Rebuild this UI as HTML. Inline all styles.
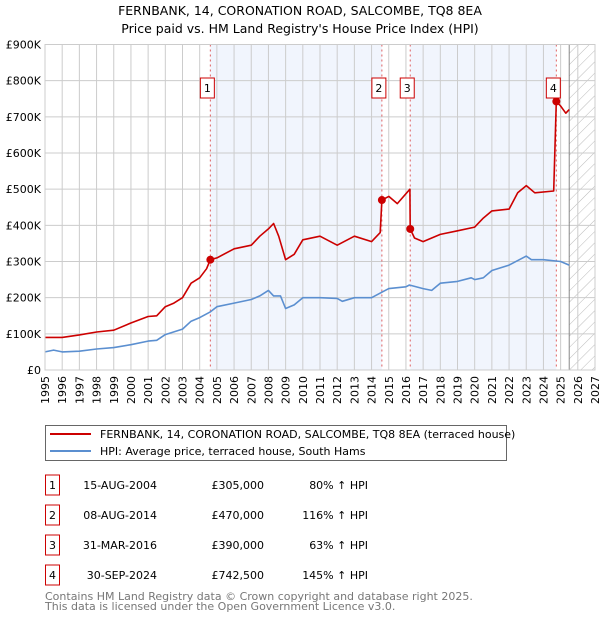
<!DOCTYPE html>
<html><head><meta charset="utf-8"><style>
body{margin:0;background:#fff;font-family:"DejaVu Sans","Liberation Sans",sans-serif;}
svg{display:block}
</style></head><body>
<svg id="c" width="600" height="620" xmlns="http://www.w3.org/2000/svg" font-family="DejaVu Sans, Liberation Sans, sans-serif">
<defs><pattern id="hatch" width="8" height="8" patternUnits="userSpaceOnUse" patternTransform="rotate(45)"><line x1="0" y1="0" x2="0" y2="8" stroke="#bbb" stroke-width="1"/></pattern></defs>
<text x="300" y="15" text-anchor="middle" font-size="12.5">FERNBANK, 14, CORONATION ROAD, SALCOMBE, TQ8 8EA</text>
<text x="300" y="33" text-anchor="middle" font-size="12.5">Price paid vs. HM Land Registry's House Price Index (HPI)</text>
<g id="plot"></g>
<g>
<rect x="45.5" y="425.5" width="461" height="35" fill="#fff" stroke="#666"/>
<line x1="50" y1="434" x2="91" y2="434" stroke="#cc0000" stroke-width="2"/>
<text x="100" y="438" font-size="11">FERNBANK, 14, CORONATION ROAD, SALCOMBE, TQ8 8EA (terraced house)</text>
<line x1="50" y1="451" x2="91" y2="451" stroke="#5b8fd0" stroke-width="2"/>
<text x="100" y="455" font-size="11">HPI: Average price, terraced house, South Hams</text>
</g>
<g id="table" font-size="11"></g>
<text x="45" y="600" font-size="11" fill="#777">Contains HM Land Registry data © Crown copyright and database right 2025.</text>
<text x="45" y="610" font-size="11" fill="#777">This data is licensed under the Open Government Licence v3.0.</text>
</svg>
<script>
const hpiYears=[1995,1995.5,1996,1997,1998,1999,2000,2001,2001.5,2002,2003,2003.5,2004,2004.6,2005,2006,2007,2007.5,2008,2008.3,2008.7,2009,2009.5,2010,2011,2012,2012.3,2013,2014,2014.6,2015,2016,2016.2,2017,2017.5,2018,2019,2019.8,2020,2020.5,2021,2022,2023,2023.3,2024,2025,2025.5];
const hpiValues=[50,55,50,52,58,62,70,80,82,98,113,135,145,160,175,185,195,205,220,205,205,170,180,200,200,198,190,200,200,215,225,230,235,225,220,240,245,255,250,255,275,290,315,305,305,300,290];
const propYears=[1995,1996,1997,1998,1999,2000,2001,2001.5,2002,2002.5,2003,2003.5,2004,2004.4,2004.62,2005,2006,2007,2007.5,2008,2008.3,2008.6,2009,2009.5,2010,2011,2012,2013,2014,2014.5,2014.6,2015,2015.5,2016.23,2016.25,2016.5,2017,2018,2019,2020,2020.5,2021,2022,2022.5,2023,2023.5,2024.6,2024.75,2025,2025.3,2025.5];
const propValues=[90,90,97,105,110,130,148,150,175,185,200,240,255,280,305,310,335,345,370,390,405,370,305,320,360,370,345,370,355,380,470,480,460,500,390,365,355,375,385,395,420,440,445,490,510,490,495,742.5,730,710,720];
const saleLabels=["1","2","3","4"];
const saleYears=[2004.62,2014.6,2016.25,2024.75];
const saleValues=[305,470,390,742.5];
const saleDates=["15-AUG-2004","08-AUG-2014","31-MAR-2016","30-SEP-2024"];
const salePrices=["£305,000","£470,000","£390,000","£742,500"];
const saleHpi=["80% ↑ HPI","116% ↑ HPI","63% ↑ HPI","145% ↑ HPI"];
const yTicks=[0,100,200,300,400,500,600,700,800,900];
const yTickLabels=["£0","£100K","£200K","£300K","£400K","£500K","£600K","£700K","£800K","£900K"];
const xTicks=[1995,1996,1997,1998,1999,2000,2001,2002,2003,2004,2005,2006,2007,2008,2009,2010,2011,2012,2013,2014,2015,2016,2017,2018,2019,2020,2021,2022,2023,2024,2025,2026,2027];

const X0=45,X1=595,Y0=370,Y1=44.5;
const xs=y=>X0+(y-1995)/(2027-1995)*(X1-X0);
const ys=v=>Y0-v/900*(Y0-Y1);
const NS="http://www.w3.org/2000/svg";
const plot=document.getElementById('plot');
function mk(tag,attrs,parent){const e=document.createElementNS(NS,tag);for(const k in attrs)e.setAttribute(k,attrs[k]);(parent||plot).appendChild(e);return e;}

let r;
r=mk('rect',{x:xs(saleYears[0]),y:Y1,width:xs(saleYears[1])-xs(saleYears[0]),height:Y0-Y1,fill:'#eef3fc',opacity:0.8});


r=mk('rect',{x:xs(saleYears[2]),y:Y1,width:xs(saleYears[3])-xs(saleYears[2]),height:Y0-Y1,fill:'#eef3fc',opacity:0.8});


r=mk('rect',{x:xs(2025.5),y:Y1,width:X1-xs(2025.5),height:Y0-Y1,fill:'url(#hatch)'});



xTicks.forEach((t,i)=>{
  const l=mk('line',{x1:xs(t),x2:xs(t),y1:Y1,y2:Y0,stroke:'#ccc','stroke-width':1});
  
  
  const tx=mk('text',{x:0,y:0,'font-size':11,'text-anchor':'end',transform:`translate(${xs(t)+4},${Y0+6}) rotate(-90)`});
  tx.textContent=t;
  
  
});
yTicks.forEach((t,i)=>{
  const l=mk('line',{x1:X0,x2:X1,y1:ys(t),y2:ys(t),stroke:'#ccc','stroke-width':1});
  
  
  const tx=mk('text',{x:X0-4,y:ys(t)+4,'font-size':11,'text-anchor':'end'});
  tx.textContent=yTickLabels[i];
  
  
});
r=mk('line',{x1:xs(2025.5),x2:xs(2025.5),y1:Y1,y2:Y0,stroke:'#888','stroke-width':1});


saleYears.forEach((y,i)=>{
  const l=mk('line',{x1:xs(y),x2:xs(y),y1:Y1,y2:Y0,stroke:'#e06060','stroke-width':1,'stroke-dasharray':'2,3'});
  
  
});
function path(xa,va,color,name){
  const d=xa.map((x,i)=>(i?'L':'M')+xs(x).toFixed(1)+','+ys(va[i]).toFixed(1)).join('');
  const p=mk('path',{d:d,fill:'none',stroke:color,'stroke-width':1.6,'stroke-linejoin':'round'});
  
  
}
path(hpiYears,hpiValues,'#5b8fd0','hpi-line');
path(propYears,propValues,'#cc0000','property-price-line');
saleYears.forEach((y,i)=>{
  const c=mk('circle',{cx:xs(y),cy:ys(saleValues[i]),r:4,fill:'#cc0000'});
  
  
  const bx=xs(y)-(i===0||i===3?7:0)-7;
  const g=mk('g',{});
  
  
  const xc=[xs(y)-3,xs(y)-3,xs(y)-3,xs(y)-3][i];
  mk('rect',{x:xc-7,y:78,width:14,height:20,fill:'#fff',stroke:'#cc0000'},g);
  const t=mk('text',{x:xc,y:92,'font-size':11,'text-anchor':'middle'},g);
  t.textContent=saleLabels[i];
});
r=mk('rect',{x:X0,y:Y1,width:X1-X0,height:Y0-Y1,fill:'none',stroke:'#ccc'});



const tbl=document.getElementById('table');
saleLabels.forEach((s,i)=>{
  const yy=483+i*30;
  const g=mk('g',{},tbl);
  
  
  mk('rect',{x:45.5,y:yy-8,width:14,height:20,fill:'#fff',stroke:'#cc0000'},g);
  let t=mk('text',{x:52.5,y:yy+6,'text-anchor':'middle'},g);t.textContent=s;
  t=mk('text',{x:157,y:yy+6,'text-anchor':'end'},g);t.textContent=saleDates[i];
  t=mk('text',{x:264,y:yy+6,'text-anchor':'end'},g);t.textContent=salePrices[i];
  t=mk('text',{x:368,y:yy+6,'text-anchor':'end'},g);t.textContent=saleHpi[i];
});
</script>
</body></html>
